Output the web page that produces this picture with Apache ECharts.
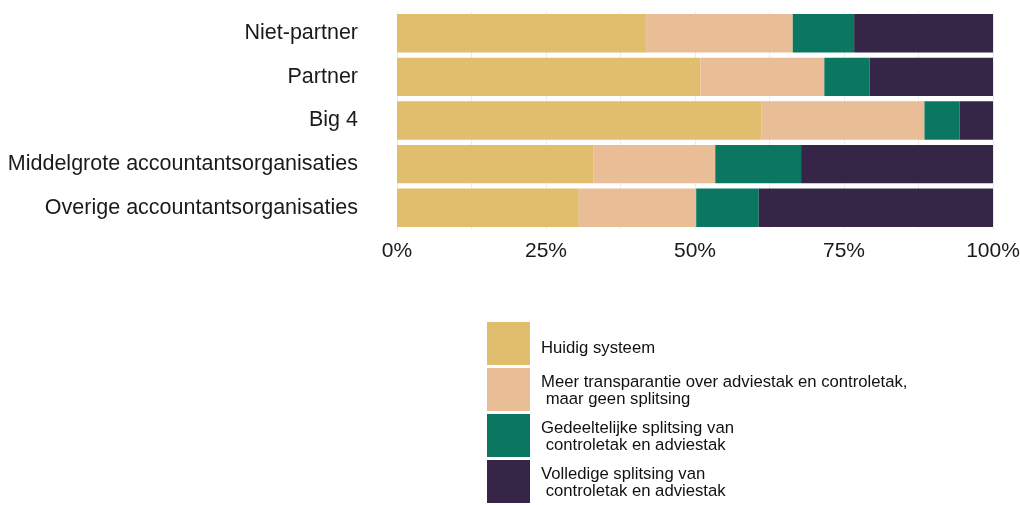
<!DOCTYPE html>
<html>
<head>
<meta charset="utf-8">
<script src="https://cdn.jsdelivr.net/npm/echarts@6/dist/echarts.min.js"></script>
<style>html,body{margin:0;padding:0;background:#fff}#c{width:1020px;height:505px}</style>
</head>
<body>
<div id="c"></div>
<script>
const categories = ['Niet-partner', 'Partner', 'Big 4', 'Middelgrote accountantsorganisaties', 'Overige accountantsorganisaties'];
const seriesNames = [
  'Huidig systeem',
  'Meer transparantie over adviestak en controletak,\n maar geen splitsing',
  'Gedeeltelijke splitsing van\n controletak en adviestak',
  'Volledige splitsing van\n controletak en adviestak'
];
const huidig = [41.8, 50.9, 61.1, 33.0, 30.5];
const transparantie = [24.6, 20.8, 27.4, 20.4, 19.7];
const gedeeltelijk = [10.3, 7.6, 5.9, 14.4, 10.5];
const volledig = [23.3, 20.7, 5.6, 32.2, 39.3];
const xTicks = [0, 25, 50, 75, 100];
const colors = ['#E1BE6E', '#E9BD95', '#0C7760', '#352647'];

const seriesData = [huidig, transparantie, gedeeltelijk, volledig];
const lf = {fontFamily: 'Liberation Sans', fontSize: 16.7, color: '#111'};
const chart = echarts.init(document.getElementById('c'), null, {renderer: 'canvas'});
chart.setOption({
  animation: false,
  backgroundColor: '#fff',
  grid: {left: 397, right: 27, top: 11.5, bottom: 275.5, containLabel: false, outerBoundsMode: 'none'},
  xAxis: {
    type: 'value', min: 0, max: 100, interval: 12.5,
    axisLine: {show: false}, axisTick: {show: false},
    splitLine: {show: true, lineStyle: {color: '#EBEBEB', width: 1}},
    axisLabel: {
      margin: 11,
      fontFamily: 'Liberation Sans', fontSize: 21, color: '#1a1a1a',
      formatter: v => xTicks.includes(v) ? v + '%' : '',
      showMinLabel: true, showMaxLabel: true
    }
  },
  yAxis: {
    type: 'category', data: categories, inverse: true,
    axisLine: {show: false}, axisTick: {show: false}, splitLine: {show: false},
    axisLabel: {margin: 39, fontFamily: 'Liberation Sans', fontSize: 21.5, color: '#1a1a1a'}
  },
  legend: {
    orient: 'vertical', left: 487, top: 322, padding: 0,
    itemWidth: 43, itemHeight: 43, itemGap: 3, icon: 'rect',
    data: seriesNames,
    formatter: name => {
      const lines = name.split('\n');
      if (lines.length === 1) return '{s|' + lines[0] + '}';
      return '{a|' + lines[0] + '}\n{b|' + lines[1] + '}';
    },
    textStyle: Object.assign({}, lf, {
      padding: [0, 0, 0, 6],
      rich: {
        s: Object.assign({}, lf, {lineHeight: 26, verticalAlign: 'bottom'}),
        a: Object.assign({}, lf, {lineHeight: 20, verticalAlign: 'bottom'}),
        b: Object.assign({}, lf, {lineHeight: 18})
      }
    })
  },
  series: seriesData.map((d, i) => ({
    name: seriesNames[i], type: 'bar', stack: 'total', data: d,
    barCategoryGap: '12%',
    itemStyle: {color: colors[i]},
    emphasis: {disabled: true}
  }))
});
</script>
</body>
</html>
